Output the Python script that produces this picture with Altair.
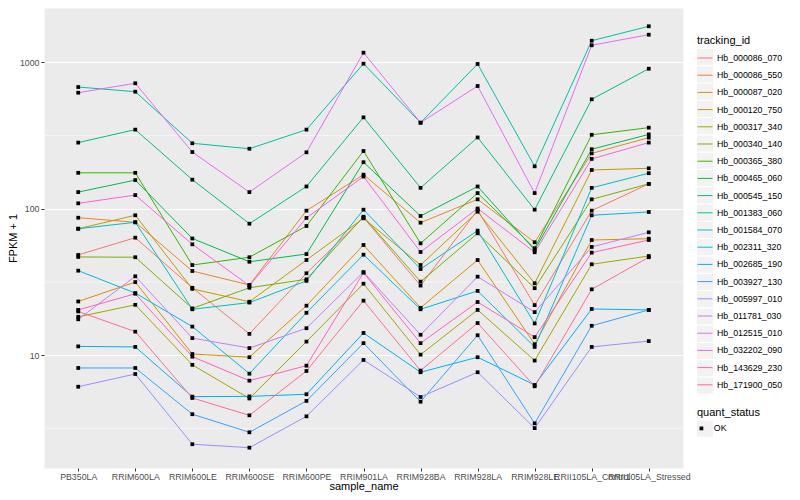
import altair as alt
import pandas as pd

samples = ["PB350LA", "RRIM600LA", "RRIM600LE", "RRIM600SE", "RRIM600PE", "RRIM901LA",
           "RRIM928BA", "RRIM928LA", "RRIM928LE", "RRII105LA_Control", "RRII105LA_Stressed"]

tracking_ids = ["Hb_000086_070", "Hb_000086_550", "Hb_000087_020", "Hb_000120_750", "Hb_000317_340",
                "Hb_000340_140", "Hb_000365_380", "Hb_000465_060", "Hb_000545_150", "Hb_001383_060",
                "Hb_001584_070", "Hb_002311_320", "Hb_002685_190", "Hb_003927_130", "Hb_005997_010",
                "Hb_011781_030", "Hb_012515_010", "Hb_032202_090", "Hb_143629_230", "Hb_171900_050"]

colors = ["#F8766D", "#EA8331", "#D89000", "#C09B00", "#A3A500", "#7CAE00", "#39B600", "#00BB4E",
          "#00BF7D", "#00C1A3", "#00BFC4", "#00BAE0", "#00B0F6", "#35A2FF", "#9590FF", "#C77CFF",
          "#E76BF3", "#FA62DB", "#FF62BC", "#FF6C91"]

hb_000086_070 = [48.4, 63.5, 28.9, 14.0, 36.3, 87.2, 29.9, 98.1, 22.0, 97.1, 148]
hb_000086_550 = [86.9, 80.9, 37.6, 30.2, 97.1, 171, 80.4, 116, 59.1, 239, 306]
hb_000087_020 = [23.3, 31.6, 10.2, 9.7, 21.8, 56.6, 21.1, 44.7, 11.9, 61.2, 62.5]
hb_000120_750 = [73.1, 90.3, 28.4, 23.2, 44.7, 86.1, 41.3, 95.5, 31.0, 184, 189]
hb_000317_340 = [18.3, 22.1, 8.6, 5.07, 12.4, 30.8, 10.1, 20.4, 9.2, 41.8, 47.6]
hb_000340_140 = [46.9, 46.7, 20.9, 28.9, 33.0, 88.3, 31.8, 68.0, 28.7, 116, 148]
hb_000365_380 = [176, 176, 41.3, 46.7, 76.3, 248, 58.1, 128, 53.8, 320, 358]
hb_000465_060 = [130, 157, 62.7, 43.5, 49.1, 208, 89.3, 142, 52.3, 255, 322]
hb_000545_150 = [283, 347, 158, 79.1, 142, 421, 139, 307, 98.6, 559, 904]
hb_001383_060 = [678, 630, 280, 257, 347, 978, 387, 974, 195, 1404, 1762]
hb_001584_070 = [73.1, 80.9, 20.6, 22.9, 32.2, 98.6, 38.8, 70.9, 16.5, 139, 175]
hb_002311_320 = [37.8, 26.6, 15.7, 7.49, 19.5, 48.6, 20.6, 27.5, 11.4, 90.3, 95.1]
hb_002685_190 = [11.5, 11.4, 5.22, 5.24, 5.42, 14.2, 7.66, 9.7, 6.27, 20.7, 20.4]
hb_003927_130 = [8.19, 8.19, 3.96, 2.98, 4.88, 12.1, 4.82, 13.7, 3.43, 15.9, 20.4]
hb_005997_010 = [6.10, 7.45, 2.47, 2.34, 3.83, 9.29, 5.19, 7.66, 3.18, 11.4, 12.5]
hb_011781_030 = [17.6, 34.6, 13.1, 11.2, 15.3, 37.0, 13.8, 34.4, 19.7, 54.9, 69.1]
hb_012515_010 = [620, 719, 244, 130, 243, 1163, 387, 689, 128, 1307, 1543]
hb_032202_090 = [109, 124, 57.2, 29.9, 86.6, 166, 50.7, 100.5, 50.5, 219, 283]
hb_143629_230 = [20.4, 26.3, 9.78, 6.71, 8.49, 36.6, 12.1, 23.1, 13.3, 50.2, 61.2]
hb_171900_050 = [19.9, 14.5, 5.11, 3.89, 7.81, 23.6, 7.86, 16.6, 6.14, 28.2, 46.7]

series_values = [hb_000086_070, hb_000086_550, hb_000087_020, hb_000120_750, hb_000317_340,
                 hb_000340_140, hb_000365_380, hb_000465_060, hb_000545_150, hb_001383_060,
                 hb_001584_070, hb_002311_320, hb_002685_190, hb_003927_130, hb_005997_010,
                 hb_011781_030, hb_012515_010, hb_032202_090, hb_143629_230, hb_171900_050]

y_ticks = [10, 100, 1000]
minor_grid = [3.1623, 31.623, 316.23]

rows = []
for tid, vals in zip(tracking_ids, series_values):
    for i, (s, v) in enumerate(zip(samples, vals)):
        rows.append({"tracking_id": tid, "sample_name": s, "idx": i, "fpkm": v, "quant_status": "OK"})
df = pd.DataFrame(rows)
minor_df = pd.DataFrame({"v": minor_grid})

FONT = "Liberation Sans"
KEY_BG = "#F2F2F2"

y_scale = alt.Scale(type="log", domain=[1.70, 2348], nice=False)
y_axis = alt.Axis(title="FPKM + 1", values=y_ticks, format="d", gridWidth=1.07,
                  labelPadding=2, titlePadding=1)
x_enc = alt.X("sample_name:N", sort=samples,
              scale=alt.Scale(type="point", padding=0.6),
              axis=alt.Axis(title="sample_name", labelAngle=0, labelOverlap=False,
                            gridWidth=1.07, labelPadding=1, titlePadding=0))
y_enc = alt.Y("fpkm:Q", scale=y_scale, axis=y_axis)

minor = alt.Chart(minor_df).mark_rule(color="white", strokeWidth=0.53).encode(
    y=alt.Y("v:Q", scale=y_scale, axis=y_axis)
)

# invisible layers whose legends give the grey key backgrounds
key_bg_ids = alt.Chart(df).mark_point(opacity=0, filled=True).encode(
    x=x_enc, y=y_enc,
    fill=alt.Fill("tracking_id:N", scale=alt.Scale(domain=tracking_ids, range=[KEY_BG] * len(tracking_ids)),
                  legend=alt.Legend(title=None, orient="none", legendX=653, legendY=41,
                                    symbolType="square", symbolSize=256, symbolStrokeWidth=0,
                                    symbolOpacity=1, rowPadding=1.3, labelExpr="''", zindex=0)),
)
key_bg_status = alt.Chart(df).mark_point(opacity=0, filled=True).encode(
    x=x_enc, y=y_enc,
    fill=alt.Fill("quant_status:N", scale=alt.Scale(domain=["OK"], range=[KEY_BG]),
                  legend=alt.Legend(title=None, orient="none", legendX=653, legendY=412.7,
                                    symbolType="square", symbolSize=256, symbolStrokeWidth=0,
                                    symbolOpacity=1, labelExpr="''", zindex=0)),
)

lines = alt.Chart(df).mark_line(strokeWidth=1).encode(
    x=x_enc, y=y_enc,
    color=alt.Color("tracking_id:N", scale=alt.Scale(domain=tracking_ids, range=colors),
                    legend=alt.Legend(title="tracking_id", orient="none", legendX=653, legendY=27,
                                      symbolType="stroke", symbolSize=225, symbolStrokeWidth=1,
                                      rowPadding=4.2, titlePadding=4, labelOffset=4, zindex=1)),
    order=alt.Order("idx:Q"),
)

points = alt.Chart(df).mark_point(filled=True, size=14, color="black", opacity=1).encode(
    x=x_enc, y=y_enc,
    shape=alt.Shape("quant_status:N", scale=alt.Scale(domain=["OK"], range=["square"]),
                    legend=alt.Legend(title="quant_status", orient="none", legendX=653, legendY=399,
                                      symbolSize=14, symbolFillColor="black", symbolStrokeColor="black",
                                      titlePadding=6, labelOffset=8, zindex=1)),
)

chart = alt.layer(minor, key_bg_ids, key_bg_status, lines, points).resolve_scale(
    fill="independent"
).properties(
    width=639, height=460,
    autosize=alt.AutoSizeParams(type="none"),
    padding={"left": 36, "top": 0, "right": 109, "bottom": 24},
).configure_view(
    fill="#EBEBEB", stroke="transparent"
).configure_axis(
    gridColor="white", domain=False, tickColor="#333333", tickSize=3, tickWidth=1,
    labelColor="#4D4D4D", labelFont=FONT, labelFontSize=8.8,
    titleFont=FONT, titleFontSize=11, titleColor="black", titleFontWeight="normal",
).configure_legend(
    labelFont=FONT, labelFontSize=8.8, labelColor="black",
    titleFont=FONT, titleFontSize=11, titleColor="black", titleFontWeight="normal",
)

chart.save("out.html", embed_options={"renderer": "svg", "actions": False})
